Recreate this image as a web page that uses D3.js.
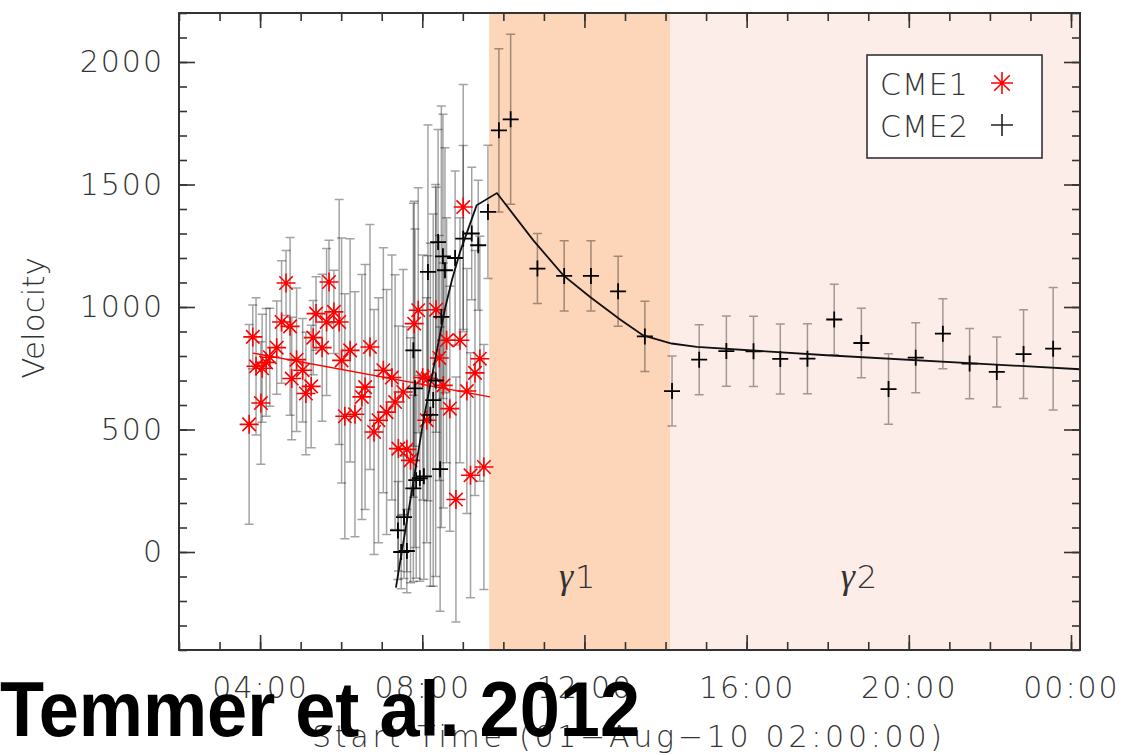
<!DOCTYPE html>
<html><head><meta charset="utf-8">
<script src="https://cdn.jsdelivr.net/npm/d3@7"></script>
<style>body{margin:0;background:#fff}svg{display:block}</style>
</head><body>
<svg id="chart" width="1126" height="755"></svg>
<script>
// ---------- DATA (time in decimal hours UT on 01-Aug-2010, velocity in km/s) ----------
const cme1Time = [3.73,3.82,3.90,4.02,4.05,4.15,4.24,4.41,4.53,4.64,4.74,4.78,4.90,5.05,5.13,5.26,5.31,5.38,5.53,5.64,5.70,5.82,5.95,6.01,6.09,6.22,6.34,6.51,6.59,6.71,6.81,6.92,7.04,7.12,7.25,7.33,7.41,7.53,7.62,7.71,7.80,7.90,8.01,8.11,8.14,8.34,8.42,8.52,8.60,8.68,8.83,8.93,9.01,9.10,9.19,9.30,9.42,9.52];
const cme1Vel  = [521,878,758,608,750,774,795,834,939,1098,921,708,785,742,647,676,875,973,834,939,1102,980,939,782,554,823,562,633,673,837,490,538,742,571,712,612,422,653,419,374,932,987,712,538,709,989,792,680,864,585,214,864,1408,657,313,731,789,347];
const cme1Err  = [408,130,280,250,220,220,200,190,250,133,363,250,293,211,250,250,152,150,300,300,170,170,500,500,500,456,500,500,500,500,500,500,500,500,500,520,500,500,500,500,500,500,500,500,500,500,500,500,500,500,500,500,500,500,500,500,500,500];

const cme2Time = [7.40,7.48,7.55,7.62,7.78,7.78,7.82,7.85,7.94,8.04,8.14,8.20,8.27,8.33,8.39,8.44,8.47,8.51,8.56,8.81,9.01,9.22,9.38,9.62,9.89,10.18,
                  10.84,11.50,12.16,12.83,13.49,14.16,14.83,15.50,16.17,16.83,17.50,18.16,18.83,19.50,20.17,20.84,21.50,22.17,22.83,23.56];
const cme2Vel  = [88,0,142,4,260,823,668,293,301,309,1143,560,620,700,1265,338,960,1207,1150,1200,1279,1300,1252,1388,1721,1766,
                  1157,1127,1127,1064,880,657,785,820,819,788,789,949,853,665,793,891,769,735,808,830];
const cme2Err  = [200,150,250,170,380,600,650,400,420,420,600,700,760,800,460,580,860,580,500,355,380,270,265,272,333,347,
                  143,143,143,143,143,143,143,143,143,143,143,144,142,144,143,143,143,143,181,250];

const fit1Time = [3.82, 9.67];
const fit1Vel  = [812, 633];
const fit2Time = [7.35,8.03,8.56,8.73,8.93,9.34,9.84,10.74,11.48,12.14,12.88,13.45,14.15,14.77,17.98,24.22];
const fit2Vel  = [-145,538,993,1109,1224,1415,1465,1272,1129,1041,949,884,851,837,803,746];

const phaseStart  = [9.65, 14.11];
const phaseEnd    = [14.11, 24.222];
const phaseLabelTime = [11.82, 18.77];
const phaseLabels = ["1", "2"];
const phaseColors = ["#FDD5B8", "#FDEDE8"];

const xMajorTicks = [4, 8, 12, 16, 20, 24];
const yMajorTicks = [0, 500, 1000, 1500, 2000];
const legendNames = ["CME1", "CME2"];

// ---------- LAYOUT ----------
const L = 179, R = 1080, T = 13, B = 650;
const svg = d3.select("#chart");
const x = d3.scaleLinear().domain([2, 2 + 80000/3600]).range([L, R]);
const y = d3.scaleLinear().domain([-400, 2200]).range([B, T]);
const fontF = "'DejaVu Sans', 'Open Sans', sans-serif";
const txtCol = "#333";

svg.append("defs").append("clipPath").attr("id","clip")
  .append("rect").attr("x",L).attr("y",T).attr("width",R-L).attr("height",B-T);

// shaded phases
svg.append("g").selectAll("rect").data(phaseStart).join("rect")
  .attr("x", d => x(d)).attr("y", T)
  .attr("width", (d,i) => x(phaseEnd[i]) - x(d)).attr("height", B - T)
  .attr("fill", (d,i) => phaseColors[i]);

// phase labels
const pl = svg.append("g").attr("font-size",32).attr("fill","#333");
phaseLabelTime.forEach((t0,i) => {
  const t = pl.append("text").attr("x", x(t0)).attr("y", 588).attr("text-anchor","middle");
  t.append("tspan").attr("font-family","'Liberation Serif', 'DejaVu Serif', serif").attr("font-style","italic").attr("font-size",36).text("γ");
  t.append("tspan").attr("font-family",fontF).attr("font-weight",200).attr("dx",2).text(phaseLabels[i]);
});

const plot = svg.append("g").attr("clip-path","url(#clip)");

// error bars
function errBars(times, vels, errs) {
  const g = plot.append("g").attr("stroke","#000").attr("stroke-opacity",0.36).attr("stroke-width",1.5).attr("fill","none");
  times.forEach((t,i) => {
    const cx = x(t), y1 = y(vels[i] + errs[i]), y2 = y(vels[i] - errs[i]);
    g.append("path").attr("d", `M${cx},${y1}V${y2}M${cx-4.5},${y1}H${cx+4.5}M${cx-4.5},${y2}H${cx+4.5}`);
  });
}
errBars(cme1Time, cme1Vel, cme1Err);
errBars(cme2Time, cme2Vel, cme2Err);

// markers
function asterisk(r){ const d=r*0.7071; return `M${-r},0H${r}M0,${-r}V${r}M${-d},${-d}L${d},${d}M${-d},${d}L${d},${-d}`; }
function plus(r){ return `M${-r},0H${r}M0,${-r}V${r}`; }

plot.append("g").selectAll("path").data(cme1Time).join("path")
  .attr("transform",(d,i)=>`translate(${x(d)},${y(cme1Vel[i])})`)
  .attr("d", asterisk(9.5)).attr("stroke","#ff0000").attr("stroke-width",1.6).attr("fill","none");

// fit lines
const line = d3.line().x(d=>x(d[0])).y(d=>y(d[1]));
plot.append("path").datum(fit1Time.map((t,i)=>[t,fit1Vel[i]]))
  .attr("d", line).attr("stroke","#ff0000").attr("stroke-width",1.3).attr("fill","none");

plot.append("g").selectAll("path").data(cme2Time).join("path")
  .attr("transform",(d,i)=>`translate(${x(d)},${y(cme2Vel[i])})`)
  .attr("d", plus(8)).attr("stroke","#000").attr("stroke-width",1.8).attr("fill","none");

plot.append("path").datum(fit2Time.map((t,i)=>[t,fit2Vel[i]]))
  .attr("d", line).attr("stroke","#111").attr("stroke-width",1.8).attr("fill","none");

// axes (IDL-style: inward ticks on all sides)
const xMinor = d3.range(2, 25, 1);
const yMinor = d3.range(-400, 2201, 100);
function styleAxis(g){ g.select(".domain").remove(); g.selectAll("line").attr("stroke","#333").attr("stroke-width",1.6); }

svg.append("g").attr("transform",`translate(0,${B})`).call(d3.axisBottom(x).tickValues(xMinor).tickSize(-8).tickFormat("")).call(styleAxis);
svg.append("g").attr("transform",`translate(0,${T})`).call(d3.axisTop(x).tickValues(xMinor).tickSize(-8).tickFormat("")).call(styleAxis);
svg.append("g").attr("transform",`translate(0,${T})`).call(d3.axisTop(x).tickValues(xMajorTicks).tickSize(-15).tickFormat("")).call(styleAxis);
const xAx = svg.append("g").attr("transform",`translate(0,${B})`)
  .call(d3.axisBottom(x).tickValues(xMajorTicks).tickSize(-15).tickPadding(27)
    .tickFormat(h => String(h % 24).padStart(2,"0") + ":00")).call(styleAxis);
xAx.selectAll("text").attr("font-family",fontF).attr("font-weight",200).attr("font-size",30).attr("fill",txtCol).attr("letter-spacing","2px");

svg.append("g").attr("transform",`translate(${L},0)`).call(d3.axisLeft(y).tickValues(yMinor).tickSize(-8).tickFormat("")).call(styleAxis);
svg.append("g").attr("transform",`translate(${R},0)`).call(d3.axisRight(y).tickValues(yMinor).tickSize(-8).tickFormat("")).call(styleAxis);
svg.append("g").attr("transform",`translate(${R},0)`).call(d3.axisRight(y).tickValues(yMajorTicks).tickSize(-16).tickFormat("")).call(styleAxis);
const yAx = svg.append("g").attr("transform",`translate(${L},0)`)
  .call(d3.axisLeft(y).tickValues(yMajorTicks).tickSize(-16).tickPadding(15).tickFormat(d3.format("d"))).call(styleAxis);
yAx.selectAll("text").attr("font-family",fontF).attr("font-weight",200).attr("font-size",30).attr("fill",txtCol).attr("letter-spacing","2px");

// frame
svg.append("rect").attr("x",L).attr("y",T).attr("width",R-L).attr("height",B-T)
  .attr("fill","none").attr("stroke","#333").attr("stroke-width",2);

// axis titles
svg.append("text").attr("x",627).attr("y",747).attr("text-anchor","middle")
  .attr("font-family",fontF).attr("font-weight",200).attr("font-size",30).attr("fill",txtCol)
  .attr("textLength",630).attr("lengthAdjust","spacing")
  .text("Start Time (01\u2212Aug\u221210 02:00:00)");
svg.append("text").attr("transform","translate(44,318) rotate(-90)").attr("text-anchor","middle")
  .attr("font-family",fontF).attr("font-weight",200).attr("font-size",31).attr("fill",txtCol)
  .text("Velocity");

// legend
const lg = svg.append("g");
lg.append("rect").attr("x",867).attr("y",55).attr("width",175).attr("height",103)
  .attr("fill","#fff").attr("stroke","#333").attr("stroke-width",1.6);
lg.selectAll("text").data(legendNames).join("text")
  .attr("x",880).attr("y",(d,i)=>95+i*42)
  .attr("font-family",fontF).attr("font-weight",200).attr("font-size",30).attr("fill","#333").attr("letter-spacing","1px")
  .text(d=>d);
lg.append("path").attr("transform","translate(1002,83)").attr("d",asterisk(11)).attr("stroke","#ff0000").attr("stroke-width",1.6).attr("fill","none");
lg.append("path").attr("transform","translate(1002,125)").attr("d",plus(11)).attr("stroke","#222").attr("stroke-width",1.6).attr("fill","none");

// overlay caption
svg.append("text").attr("x",0).attr("y",736).attr("font-family","'Liberation Sans', Arial, sans-serif")
  .attr("font-weight","bold").attr("font-size",78).attr("fill","#000")
  .attr("textLength",640).attr("lengthAdjust","spacingAndGlyphs")
  .text("Temmer et al. 2012");
</script>
</body></html>
